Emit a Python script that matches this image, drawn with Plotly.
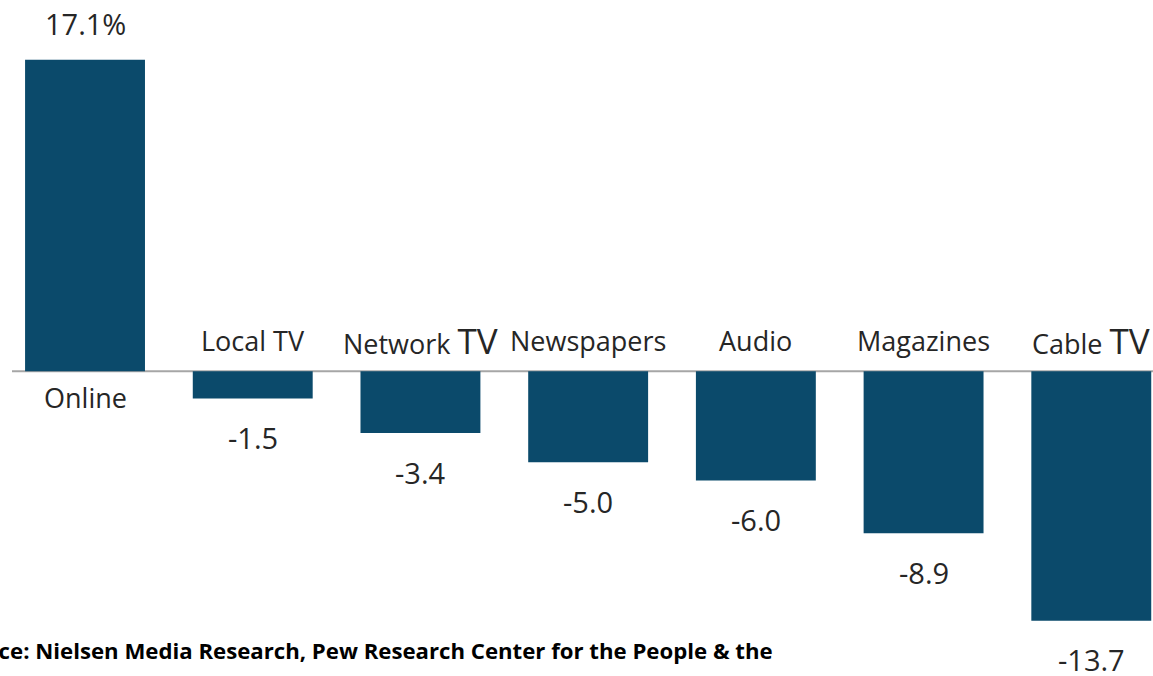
import plotly.graph_objects as go

categories = ["Online", "Local TV", "Network TV", "Newspapers", "Audio", "Magazines", "Cable TV"]
values = [17.1, -1.5, -3.4, -5.0, -6.0, -8.9, -13.7]
value_labels = ["17.1%", "-1.5", "-3.4", "-5.0", "-6.0", "-8.9", "-13.7"]
cat_labels = ["Online", "Local TV", "Network <span style='font-size:35px'>TV</span>", "Newspapers",
              "Audio", "Magazines", "Cable <span style='font-size:35px'>TV</span>"]
source_text = "Source: Nielsen Media Research, Pew Research Center for the People & the"

BAR = "#0b4a6b"
TXT = "#262626"
FONT = "Open Sans"
CAT_SIZE = 27
VAL_SIZE = 29

xs = list(range(len(categories)))
fig = go.Figure(go.Bar(x=xs, y=values, marker=dict(color=BAR, line=dict(width=0)),
                       width=0.715, hoverinfo="skip"))

ann = []
for i, (v, vl, cl) in enumerate(zip(values, value_labels, cat_labels)):
    if v >= 0:
        ann.append(dict(x=i, y=v, text=vl, showarrow=False, yshift=36, yanchor="middle",
                        font=dict(size=VAL_SIZE, color=TXT, family=FONT)))
        ann.append(dict(x=i, y=0, text=cl, showarrow=False, yshift=-26, yanchor="middle",
                        font=dict(size=CAT_SIZE, color=TXT, family=FONT)))
    else:
        ann.append(dict(x=i, y=v, text=vl, showarrow=False, yshift=-39, yanchor="middle",
                        font=dict(size=VAL_SIZE, color=TXT, family=FONT)))
        ann.append(dict(x=i, y=0, text=cl, showarrow=False, yshift=31, yanchor="middle",
                        font=dict(size=CAT_SIZE, color=TXT, family=FONT)))

ann.append(dict(xref="paper", yref="paper", x=775/1153, y=1-650/676, xanchor="right", yanchor="middle",
                text="<b>" + source_text + "</b>", showarrow=False,
                font=dict(size=22.2, color="#000000", family=FONT)))

fig.update_layout(
    width=1153, height=676,
    margin=dict(l=0, r=0, t=0, b=0),
    paper_bgcolor="white", plot_bgcolor="white",
    showlegend=False,
    xaxis=dict(range=[-0.507, 6.368], visible=False, fixedrange=True),
    yaxis=dict(range=[-16.74, 20.38], visible=False, fixedrange=True),
    annotations=ann,
    shapes=[dict(type="line", xref="paper", yref="y", x0=12/1153, x1=1, y0=0, y1=0,
                 line=dict(color="#a6a6a6", width=2), layer="below")],
)

fig.write_html("out.html")
